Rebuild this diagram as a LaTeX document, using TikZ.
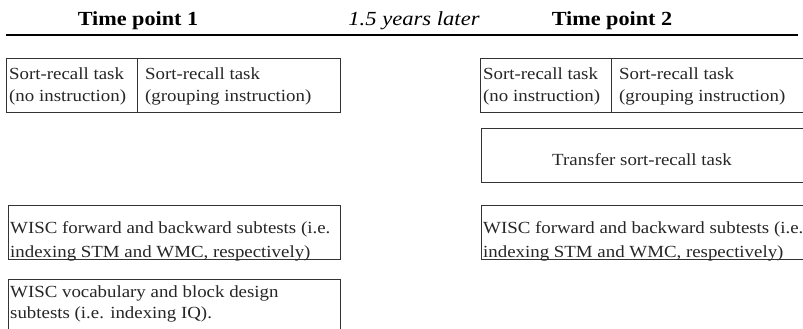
\documentclass[tikz,border=0pt]{standalone}
\usepackage{fontspec}
\setmainfont{Liberation Serif}
\newfontfamily\bodyfont[FakeStretch=1.11]{Liberation Serif}
\newfontfamily\midfont[FakeStretch=1.13]{Liberation Serif}
\begin{document}
\begin{tikzpicture}[x=1pt,y=-1pt,
  box/.style={draw=black!80, line width=1.1pt, inner sep=0pt, anchor=north west},
  txt/.style={inner sep=0pt, anchor=base west, text=black!85, font=\bodyfont\fontsize{17}{21}\selectfont},
  ctxt/.style={inner sep=0pt, anchor=base, text=black!85, font=\bodyfont\fontsize{17}{21}\selectfont},
  head/.style={inner sep=0pt, anchor=base, font=\bodyfont\fontsize{20}{24}\selectfont\bfseries},
  headi/.style={inner sep=0pt, anchor=base, font=\midfont\fontsize{20}{24}\selectfont\itshape}]
\clip (0,0) rectangle (803,329);
\fill[white] (0,0) rectangle (803,329);
% headers
\node[head] (h1) at (138,26) {Time point 1};
\node[headi] (hm) at (414,26) {1.5 years later};
\node[head] (h2) at (612,26) {Time point 2};
\coordinate (ls) at (6,35);
\coordinate (le) at (798,35);
\draw[line width=2pt] (ls) -- (le);
% left sort-recall boxes
\node[box, minimum width=131pt, minimum height=54pt] (l1a) at (6,58) {};
\node[box, minimum width=203pt, minimum height=54pt] (l1b) at (137,58) {};
\node[txt] (t1) at (9,80) {Sort-recall task};
\node[txt] (t2) at (9,101) {(no instruction)};
\node[txt] (t3) at (145,80) {Sort-recall task};
\node[txt] (t4) at (145,101) {(grouping instruction)};
% right sort-recall boxes
\node[box, minimum width=131pt, minimum height=54pt] (r1a) at (480,58) {};
\node[box, minimum width=200pt, minimum height=54pt] (r1b) at (611,58) {};
\node[txt] (t5) at (483,80) {Sort-recall task};
\node[txt] (t6) at (483,101) {(no instruction)};
\node[txt] (t7) at (619,80) {Sort-recall task};
\node[txt] (t8) at (619,101) {(grouping instruction)};
% transfer
\node[box, minimum width=330pt, minimum height=54pt] (tr) at (481,128) {};
\node[ctxt] (t9) at (642,165) {Transfer sort-recall task};
% WISC left
\node[box, minimum width=332pt, minimum height=54pt] (w1) at (8,205) {};
\node[txt] (t10) at (10,233) {WISC forward and backward subtests (i.e.};
\node[txt] (t11) at (10,257) {indexing STM and WMC, respectively)};
% WISC right
\node[box, minimum width=330pt, minimum height=54pt] (w2) at (481,205) {};
\node[txt] (t12) at (483,233) {WISC forward and backward subtests (i.e.};
\node[txt] (t13) at (483,257) {indexing STM and WMC, respectively)};
% WISC IQ
\node[box, minimum width=332pt, minimum height=60pt] (w3) at (8,279) {};
\node[txt] (t14) at (10,297) {WISC vocabulary and block design};
\node[txt] (t15) at (10,318) {subtests (i.e. indexing IQ).};
\end{tikzpicture}
\end{document}
